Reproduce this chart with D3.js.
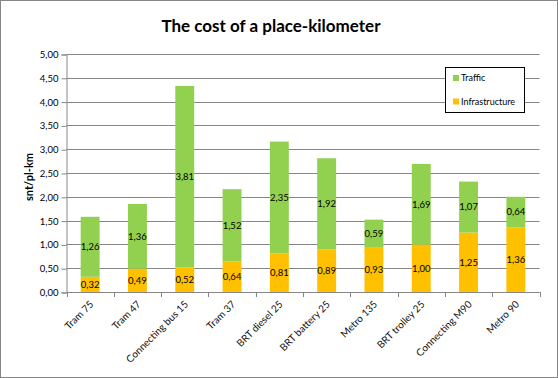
<!DOCTYPE html>
<html><head><meta charset="utf-8">
<script src="https://cdn.jsdelivr.net/npm/d3@7"></script>
<style>body{margin:0;background:#fff}svg{display:block}</style>
</head><body>
<script>
const categories = ["Tram 75","Tram 47","Connecting bus 15","Tram 37","BRT diesel 25","BRT battery 25","Metro 135","BRT trolley 25","Connecting M90","Metro 90"];
const infrastructure = [0.32,0.49,0.52,0.64,0.81,0.89,0.93,1.00,1.25,1.36];
const traffic = [1.26,1.36,3.81,1.52,2.35,1.92,0.59,1.69,1.07,0.64];
const yTicks = [0,0.5,1,1.5,2,2.5,3,3.5,4,4.5,5];
const seriesNames = ["Traffic","Infrastructure"];
const colors = {Traffic:"#92D050", Infrastructure:"#FFC000"};

const W=558,H=378;
const svg=d3.select("body").append("svg").attr("width",W).attr("height",H);
const font="Lato, 'Open Sans', sans-serif";
svg.append("rect").attr("x",0.5).attr("y",0.5).attr("width",W-1).attr("height",H-1).attr("fill","#fff").attr("stroke","#868686");

const x=d3.scaleBand().domain(categories).range([66.5,539.5]).paddingInner(0.6).paddingOuter(0.3);
const xEdge=d3.scaleLinear().domain([0,categories.length]).range([66.5,539.5]);
const y=d3.scaleLinear().domain([0,5]).range([292,54]);

// gridlines
svg.append("g").selectAll("line").data(yTicks).join("line")
 .attr("x1",66.5).attr("x2",539.5).attr("y1",d=>Math.round(y(d))+0.5).attr("y2",d=>Math.round(y(d))+0.5)
 .attr("stroke","#868686").attr("stroke-width",1);

// y axis
const ya=svg.append("g").attr("transform","translate(66.5,0.5)")
 .call(d3.axisLeft(y).tickValues(yTicks).tickSize(5).tickFormat(d=>d3.format(".2f")(d).replace(".",",")));
ya.select(".domain").attr("stroke","#868686");
ya.selectAll(".tick line").attr("stroke","#868686");
ya.selectAll("text").attr("font-family",font).attr("font-size","9.5px").attr("fill","#000").attr("x",-8);

// x axis line & ticks
svg.append("line").attr("x1",66.5).attr("x2",539.5).attr("y1",292.5).attr("y2",292.5).attr("stroke","#868686");
svg.append("g").selectAll("line").data(d3.range(categories.length+1)).join("line")
 .attr("x1",i=>Math.round(xEdge(i))+0.5).attr("x2",i=>Math.round(xEdge(i))+0.5).attr("y1",292).attr("y2",297)
 .attr("stroke","#868686");

// bars
const g=svg.append("g");
categories.forEach((c,i)=>{
  const a=infrastructure[i], b=traffic[i];
  g.append("rect").attr("x",x(c)).attr("width",x.bandwidth()).attr("y",y(a)).attr("height",y(0)-y(a)).attr("fill",colors.Infrastructure);
  g.append("rect").attr("x",x(c)).attr("width",x.bandwidth()).attr("y",y(a+b)).attr("height",y(a)-y(a+b)).attr("fill",colors.Traffic);
  const fmt=v=>d3.format(".2f")(v).replace(".",",");
  g.append("text").attr("x",x(c)+x.bandwidth()/2).attr("y",(y(0)+y(a))/2).attr("dy","0.35em")
   .attr("text-anchor","middle").attr("font-family",font).attr("font-size","9.5px").text(fmt(a));
  g.append("text").attr("x",x(c)+x.bandwidth()/2).attr("y",(y(a)+y(a+b))/2).attr("dy","0.35em")
   .attr("text-anchor","middle").attr("font-family",font).attr("font-size","9.5px").text(fmt(b));
});

// category labels
svg.append("g").selectAll("text").data(categories).join("text")
 .attr("transform",d=>`translate(${x(d)+x.bandwidth()/2+4},${305}) rotate(-45)`)
 .attr("text-anchor","end").attr("font-family",font).attr("font-size","10px").attr("fill","#111").text(d=>d);

// title
svg.append("text").attr("x",271).attr("y",32).attr("text-anchor","middle").attr("font-family",font)
 .attr("font-weight","bold").attr("font-size","17px").text("The cost of a place-kilometer");

// y label
svg.append("text").attr("transform","translate(33,177) rotate(-90)").attr("text-anchor","middle")
 .attr("font-family",font).attr("font-weight","bold").attr("font-size","11px").text("snt/pl-km");

// legend
const lg=svg.append("g");
lg.append("rect").attr("x",445.5).attr("y",67.5).attr("width",79).attr("height",45).attr("fill","#fff").attr("stroke","#000");
seriesNames.forEach((s,i)=>{
  const yy=78+i*23.5;
  lg.append("rect").attr("x",453).attr("y",yy-3).attr("width",6).attr("height",6).attr("fill",colors[s]);
  lg.append("text").attr("x",461).attr("y",yy).attr("dy","0.35em").attr("font-family",font).attr("font-size","9px").text(s);
});
</script>
</body></html>
